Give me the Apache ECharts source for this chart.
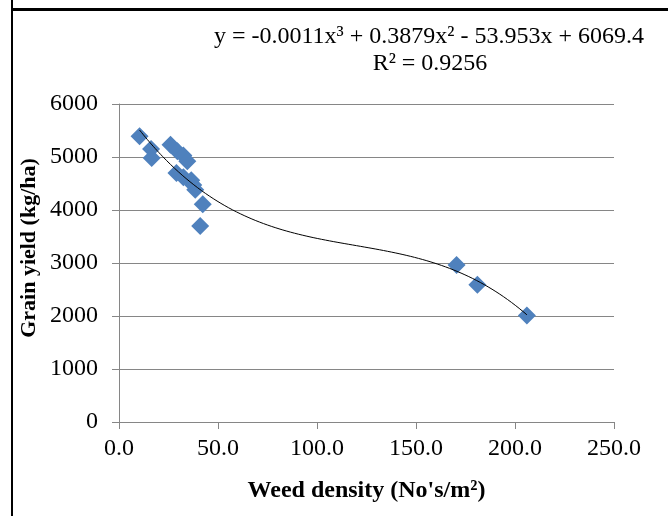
<!DOCTYPE html>
<html>
<head>
<meta charset="utf-8">
<script src="https://cdn.jsdelivr.net/npm/echarts@6/dist/echarts.min.js"></script>
<style>
  html, body { margin: 0; padding: 0; background: #fff; }
  #chart { width: 668px; height: 516px; }
</style>
</head>
<body>
<div id="chart"></div>
<script>
// Weed density (No's/m²) and grain yield (kg/ha) per plot
const weedDensity = [10.4, 16.2, 16.5, 26.0, 29.5, 32.5, 34.5, 29.0, 32.5, 36.5, 37.5, 38.5, 42.3, 41.0, 170.5, 181.0, 206.0];
const grainYield  = [5390, 5150, 4980, 5230, 5110, 5030, 4920, 4700, 4620, 4560, 4470, 4380, 4110, 3700, 2960, 2590, 2010];

const xTicks = { min: 0, max: 250, interval: 50 };
const yTicks = { min: 0, max: 6000, interval: 1000 };

const equationText = 'y = -0.0011x³ + 0.3879x² - 53.953x + 6069.4';
const rSquaredText = 'R² = 0.9256';
const xTitle = "Weed density (No's/m²)";
const yTitle = 'Grain yield (kg/ha)';

// Third-order least-squares polynomial through the observations
function polyFit(xs, ys, order) {
  const n = order + 1;
  const A = Array.from({ length: n }, () => new Array(n + 1).fill(0));
  for (let k = 0; k < xs.length; k++) {
    const pw = [];
    for (let i = 0; i < 2 * n; i++) pw.push(Math.pow(xs[k], i));
    for (let r = 0; r < n; r++) {
      for (let c = 0; c < n; c++) A[r][c] += pw[r + c];
      A[r][n] += pw[r] * ys[k];
    }
  }
  for (let i = 0; i < n; i++) {
    let p = i;
    for (let r = i + 1; r < n; r++) if (Math.abs(A[r][i]) > Math.abs(A[p][i])) p = r;
    [A[i], A[p]] = [A[p], A[i]];
    for (let r = 0; r < n; r++) {
      if (r === i) continue;
      const f = A[r][i] / A[i][i];
      for (let c = i; c <= n; c++) A[r][c] -= f * A[i][c];
    }
  }
  return A.map((row, i) => row[n] / row[i]);
}

const coef = polyFit(weedDensity, grainYield, 3);
const xMin = Math.min(...weedDensity), xMax = Math.max(...weedDensity);
const trend = [];
for (let i = 0; i <= 200; i++) {
  const x = xMin + (xMax - xMin) * i / 200;
  trend.push([x, coef[0] + coef[1] * x + coef[2] * x * x + coef[3] * x * x * x]);
}

const serif = '"Liberation Serif", "Times New Roman", serif';
const gray = '#868686';

const chart = echarts.init(document.getElementById('chart'), null, { renderer: 'canvas' });
chart.setOption({
  backgroundColor: '#fff',
  animation: false,
  grid: { left: 119, right: 54, top: 104, bottom: 94 },
  xAxis: {
    type: 'value',
    min: xTicks.min, max: xTicks.max, interval: xTicks.interval,
    name: xTitle,
    nameLocation: 'middle',
    nameGap: 57,
    nameTextStyle: { fontFamily: serif, fontWeight: 'bold', fontSize: 24, color: '#000' },
    axisLine: { lineStyle: { color: gray, width: 1 } },
    axisTick: { show: true, length: 7, lineStyle: { color: gray } },
    axisLabel: { margin: 15, fontFamily: serif, fontSize: 24, color: '#000', formatter: v => v.toFixed(1) },
    splitLine: { show: false }
  },
  yAxis: {
    type: 'value',
    min: yTicks.min, max: yTicks.max, interval: yTicks.interval,
    axisLine: { show: true, lineStyle: { color: gray, width: 1 } },
    axisTick: { show: true, length: 7, lineStyle: { color: gray } },
    axisLabel: { margin: 21, fontFamily: serif, fontSize: 24, color: '#000', formatter: v => String(v) },
    splitLine: { show: true, lineStyle: { color: gray, width: 1 } }
  },
  series: [
    {
      type: 'scatter',
      data: weedDensity.map((x, i) => [x, grainYield[i]]),
      symbol: 'diamond',
      symbolSize: 18,
      itemStyle: { color: '#4F81BD', opacity: 1 },
      z: 2
    },
    {
      type: 'line',
      data: trend,
      showSymbol: false,
      smooth: false,
      lineStyle: { color: '#000', width: 1 },
      z: 3
    }
  ],
  graphic: [
    { type: 'rect', shape: { x: 11, y: 8, width: 657, height: 3 }, style: { fill: '#000' } },
    { type: 'rect', shape: { x: 11, y: 0, width: 2, height: 516 }, style: { fill: '#000' } },
    {
      type: 'text', x: 29, y: 248, rotation: Math.PI / 2,
      style: { text: yTitle, font: 'bold 22px ' + serif, fill: '#000', align: 'center', verticalAlign: 'middle' }
    },
    {
      type: 'text', x: 429, y: 37,
      style: { text: equationText, font: '24px ' + serif, fill: '#000', align: 'center', verticalAlign: 'middle' }
    },
    {
      type: 'text', x: 430, y: 64,
      style: { text: rSquaredText, font: '24px ' + serif, fill: '#000', align: 'center', verticalAlign: 'middle' }
    }
  ]
});
</script>
</body>
</html>
